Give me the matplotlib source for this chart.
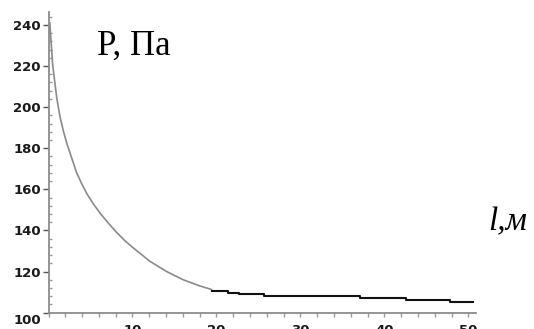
import matplotlib
matplotlib.use("Agg")
import matplotlib.pyplot as plt
import matplotlib.transforms as mtransforms
from matplotlib.ticker import MultipleLocator

# smooth part of the pressure curve
curve_l = [0.15, 0.18, 0.26, 0.38, 0.5, 0.77, 0.98, 1.37, 1.76, 2.17, 2.76,
           3.36, 3.95, 4.55, 5.33, 6.13, 7.12, 8.12, 9.1, 10.1, 12.08,
           14.07, 16.05, 18.04, 19.4]
curve_p = [241.0, 240.0, 234.5, 227.7, 220.5, 211.5, 204.5, 195.3, 188.6, 182.5, 175.3,
           168.0, 162.8, 158.0, 153.0, 148.5, 143.6, 139.0, 135.0, 131.5, 125.0,
           120.0, 116.0, 113.0, 111.3]

# stepped tail (black), segment starts and levels
step_l = [19.5, 21.4, 22.7, 25.6, 37.1, 42.6, 47.8, 50.5]
step_p = [110.8, 109.6, 108.9, 107.9, 107.1, 106.0, 105.1, 105.1]

y_ticks = [100, 120, 140, 160, 180, 200, 220, 240]
x_ticks = [10, 20, 30, 40, 50]

W, H = 534, 329
fig = plt.figure(figsize=(W / 100, H / 100), dpi=100)
ax = fig.add_axes([48.5 / W, (H - 312.7) / H, 427.5 / W, 300.7 / H])

ax.plot(curve_l, curve_p, color="#8a8a8a", lw=1.2, solid_joinstyle="round")
ax.plot(step_l, step_p, color="#111111", lw=1.5, drawstyle="steps-post")

ax.set_xlim(0, 50.9)
ax.set_ylim(100, 246.3)

for side in ("top", "right"):
    ax.spines[side].set_visible(False)
for side in ("left", "bottom"):
    ax.spines[side].set_color("#8c8c8c")
    ax.spines[side].set_linewidth(1.3)

ax.set_xticks(x_ticks)
ax.set_yticks(y_ticks)
ax.xaxis.set_minor_locator(MultipleLocator(2))
ax.yaxis.set_minor_locator(MultipleLocator(4))

ax.tick_params(axis="y", which="major", direction="out", length=4, width=1,
               color="#555555", pad=1.5)
ax.tick_params(axis="y", which="minor", direction="in", length=2, width=1,
               color="#999999")
ax.tick_params(axis="x", which="both", direction="out", length=3, width=1,
               color="#999999", pad=5)

for lab in ax.get_xticklabels() + ax.get_yticklabels():
    lab.set_fontsize(9.5)
    lab.set_fontweight("bold")
    lab.set_color("#1a1a1a")

# the "100" label sits a bit below the axis line in the original
ylabs = ax.get_yticklabels()
ylabs[0].set_transform(ylabs[0].get_transform()
                       + mtransforms.ScaledTranslation(0, -6 / 100, fig.dpi_scale_trans))

fig.text(97 / W, (H - 55) / H, "P, Па", fontsize=25, family="Liberation Serif",
         va="baseline", ha="left", color="black")
fig.text(488 / W, (H - 230) / H, "l,м", fontsize=24, family="Liberation Serif",
         style="italic", va="baseline", ha="left", color="black")

fig.savefig("out.png", dpi=100, facecolor="white")
